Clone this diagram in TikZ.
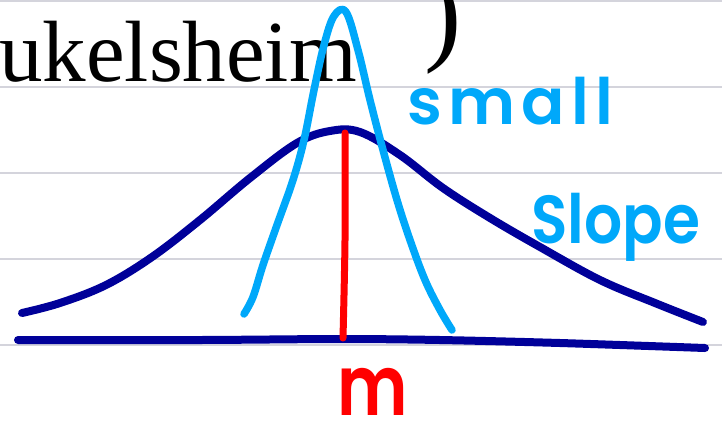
\documentclass[tikz,border=0pt]{standalone}
\usepackage{fontspec}
\setmainfont{Liberation Serif}
\newfontfamily\handfont[LetterSpace=10]{Poppins SemiBold}
\definecolor{skyblue}{RGB}{0,168,250}
\definecolor{navy}{RGB}{0,0,153}
\definecolor{ruling}{RGB}{212,212,220}

\begin{document}
\begin{tikzpicture}[x=1pt,y=-1pt,
  rule/.style={ruling,line width=1.5pt},
  curve/.style={line width=8pt,line cap=round,line join=round},
  hand/.style={inner sep=0pt,anchor=base west,font=\handfont\fontsize{64}{64}\selectfont}]
  \useasboundingbox (0,0) rectangle (722,421);
  % ruled paper
  \foreach \y in {1,87,173,259,345}
    \draw[rule] (0,\y) -- (722,\y);
  % printed text behind the sketch
  \node[inner sep=0pt,anchor=base west,font=\fontsize{87}{87}\selectfont] (word) at (-1,81) {ukelsheim};
  \node[inner sep=0pt,anchor=base west,font=\fontsize{112}{112}\selectfont] (paren) at (424,50) {)};
  % axis
  \draw[curve,navy] plot[smooth,tension=0.5] coordinates
    {(18,340) (200,340) (340,339) (440,340) (560,343) (705,348)};
  % wide bell
  \draw[curve,navy] plot[smooth,tension=0.6] coordinates
    {(22,313) (60,303) (106,285) (152,257) (200,220) (250,178) (297,143) (330,131)
     (360,132) (400,155) (443,188) (490,218) (540,247) (600,280) (655,303) (703,322)};
  % narrow peak
  \draw[curve,skyblue,line width=7.5pt] plot[smooth,tension=0.6] coordinates
    {(244,314) (253,297) (263,265) (277,225) (293,180) (304,140) (314,90)
     (324,45) (334,16) (346,12) (358,50) (370,100) (383,150) (397,200) (410,240)
     (425,280) (440,310) (452,330)};
  % mean
  \draw[curve,red,line width=7pt] plot[smooth] coordinates {(345,133) (345,240) (343,338)};
  % labels
  \node[hand,skyblue] (small) at (407,124) {small};
  \node[hand,skyblue,font=\handfont\addfontfeature{LetterSpace=0}\fontsize{68}{68}\selectfont] (slope) at (531,243) {\scalebox{0.88}[1]{Slope}};
  \node[hand,red,font=\handfont\fontsize{84}{84}\selectfont] (mean) at (337,415) {\scalebox{0.8}[1]{m}};
\end{tikzpicture}
\end{document}
